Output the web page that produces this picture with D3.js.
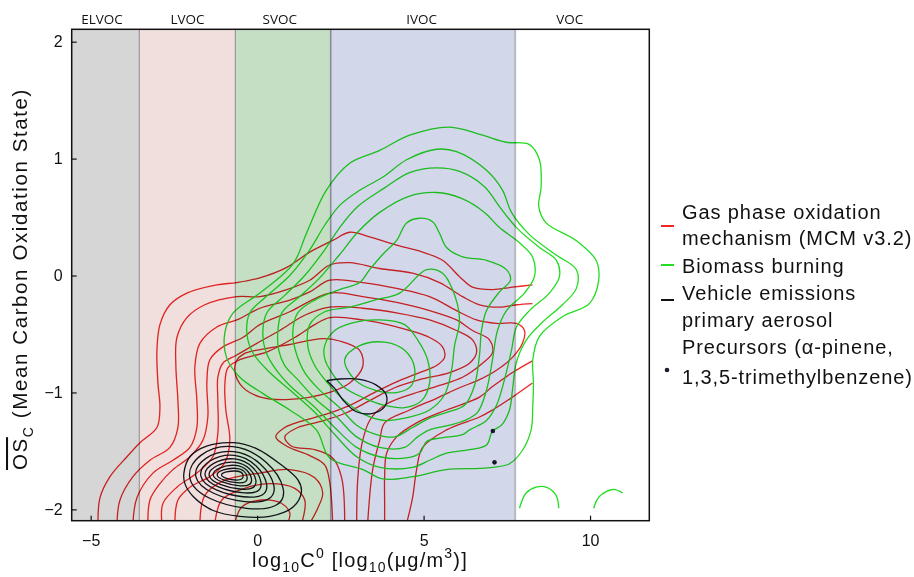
<!DOCTYPE html>
<html>
<head>
<meta charset="utf-8">
<script src="https://cdn.jsdelivr.net/npm/d3@7"></script>
<style>
body { margin: 0; background: #fff; }
svg { display: block; }
text { font-family: "Liberation Sans", Arial, sans-serif; fill: #111; }
</style>
</head>
<body>
<svg id="chart" width="914" height="577"></svg>
<script>
// volatility bins (x in log10 C0 units)
const bandNames = ["ELVOC", "LVOC", "SVOC", "IVOC", "VOC"]
const bandEdges = [-5.57, -3.54, -0.655, 2.21, 7.75, 11.78]
const bandLabelX = [-4.66, -2.09, 0.68, 4.94, 9.39]
const bandColors = ["#d6d6d6", "#f0dfdc", "#c5dfc5", "#d2d8ea", "#ffffff"]

const xTicks = [-5, 0, 5, 10]
const yTicks = [-2, -1, 0, 1, 2]

// gas phase oxidation (MCM) contours, open lines
const redLines = [
	[[-4.78,-2.12],[-4.72,-1.9],[-4.42,-1.72],[-3.91,-1.55],[-3.52,-1.43],[-3.01,-1.3],[-2.92,-1.13],[-2.98,-0.92],[-3.01,-0.64],[-2.92,-0.42],[-2.62,-0.25],[-2.11,-0.15],[-1.21,-0.08],[-0.61,-0.06],[0.08,-0.02],[0.89,0.07],[1.58,0.2],[2.27,0.3],[2.78,0.37],[3.38,0.33],[4.19,0.26],[4.97,0.2],[5.57,0.13],[6.08,-0.01],[6.47,-0.1],[7.07,-0.12],[7.67,-0.1],[8.27,-0.08]],
	[[-4.21,-2.12],[-4.12,-1.92],[-3.73,-1.72],[-3.22,-1.58],[-2.62,-1.47],[-2.38,-1.3],[-2.38,-1.07],[-2.44,-0.78],[-2.41,-0.53],[-2.11,-0.36],[-1.57,-0.25],[-0.61,-0.18],[0.08,-0.18],[0.89,-0.12],[1.58,-0.04],[2.18,0.09],[2.78,0.11],[3.68,0.06],[4.67,0.02],[5.48,-0.06],[6.17,-0.18],[6.68,-0.25],[7.28,-0.27],[7.79,-0.25],[8.27,-0.24]],
	[[-3.73,-2.12],[-3.61,-1.9],[-3.13,-1.69],[-2.53,-1.58],[-2.02,-1.47],[-1.81,-1.3],[-1.81,-1.07],[-1.87,-0.78],[-1.72,-0.58],[-1.21,-0.44],[-0.61,-0.38],[0.08,-0.28],[0.98,-0.21],[1.58,-0.14],[2.18,-0.04],[3.17,-0.06],[4.19,-0.11],[5.18,-0.18],[5.99,-0.3],[6.59,-0.38],[7.19,-0.41],[7.79,-0.41],[8.03,-0.47],[7.97,-0.58],[7.67,-0.7],[7.19,-0.81],[6.68,-0.89],[6.08,-0.96],[5.39,-1.05],[4.58,-1.15],[3.83,-1.26],[3.68,-1.41],[3.47,-1.66],[3.32,-2.12]],
	[[-3.28,-2.12],[-3.22,-1.92],[-2.92,-1.78],[-2.53,-1.66],[-2.02,-1.55],[-1.63,-1.41],[-1.48,-1.21],[-1.51,-0.92],[-1.42,-0.72],[-1.03,-0.61],[-0.43,-0.53],[0.08,-0.42],[0.98,-0.31],[2.18,-0.15],[3.17,-0.18],[4.19,-0.23],[5.18,-0.3],[5.99,-0.38],[6.47,-0.47],[6.98,-0.55],[7.07,-0.66],[6.77,-0.75],[6.17,-0.87],[5.48,-0.94],[4.58,-1.02],[3.83,-1.11],[3.38,-1.24],[3.14,-1.45],[3.02,-1.75],[2.99,-2.12]],
	[[-2.86,-2.12],[-2.83,-1.95],[-2.41,-1.81],[-1.81,-1.69],[-1.33,-1.55],[-1.18,-1.35],[-1.18,-1.07],[-1.18,-0.87],[-1.03,-0.75],[-0.61,-0.68],[-0.01,-0.58],[0.68,-0.47],[1.43,-0.34],[2.18,-0.27],[3.17,-0.28],[4.19,-0.32],[5.18,-0.38],[5.99,-0.47],[6.47,-0.55],[6.59,-0.66],[6.38,-0.75],[5.78,-0.83],[4.88,-0.89],[4.13,-0.96],[3.38,-1.07],[2.63,-1.18],[1.88,-1.25],[1.22,-1.3],[0.83,-1.38],[1.04,-1.46],[1.73,-1.49],[2.27,-1.56],[2.54,-1.73],[2.63,-2.12]],
	[[-2.47,-2.12],[-2.38,-1.92],[-2.02,-1.81],[-1.42,-1.72],[-0.97,-1.6],[-0.82,-1.41],[-0.94,-1.15],[-0.97,-0.94],[-0.88,-0.79],[-0.52,-0.72],[0.32,-0.65],[1.13,-0.53],[1.73,-0.42],[2.18,-0.36],[3.17,-0.38],[4.19,-0.44],[5.18,-0.53],[5.57,-0.61],[5.63,-0.7],[5.39,-0.77],[4.88,-0.83],[4.19,-0.91],[3.53,-1.0],[2.78,-1.11],[2.03,-1.19],[1.28,-1.25],[0.83,-1.3],[0.56,-1.38],[0.89,-1.46],[1.58,-1.54],[2.03,-1.62],[2.18,-1.77],[2.27,-2.12]],
	[[8.27,-0.92],[7.67,-1.04],[7.07,-1.15],[6.68,-1.21],[5.69,-1.32],[4.97,-1.47],[4.79,-1.66],[4.67,-1.9],[4.49,-2.12]],
	[[8.27,-0.73],[7.67,-0.83],[7.07,-0.95],[6.68,-1.04],[5.69,-1.15],[4.79,-1.26],[4.19,-1.38],[3.89,-1.52],[3.83,-1.72],[3.83,-1.95],[3.83,-2.12]],
	[[-1.72,-2.12],[-1.57,-1.88],[-0.97,-1.75],[0.08,-1.69],[0.98,-1.66],[1.73,-1.73],[1.97,-1.86],[1.82,-1.99],[1.58,-2.12]],
	[[-1.27,-2.12],[-1.06,-1.92],[-0.37,-1.82],[0.38,-1.78],[1.13,-1.82],[1.43,-1.92],[1.34,-2.12]],
	[[-0.67,-2.12],[-0.46,-1.98],[0.14,-1.92],[0.74,-1.95],[0.98,-2.03],[0.92,-2.12]]
]
const redLoops = [
	[[-0.67,-0.82],[-0.45,-0.95],[0.1,-1.04],[0.98,-1.06],[2.18,-1.0],[2.78,-0.92],[3.17,-0.78],[3.08,-0.64],[2.48,-0.56],[1.97,-0.54],[0.98,-0.59],[0.17,-0.63],[-0.4,-0.67],[-0.62,-0.73]]
]

// biomass burning contours
const greenLoops = [
	[[2.18,-1.56],[1.78,-1.32],[0.98,-1.15],[0.18,-1.01],[-0.52,-0.87],[-0.92,-0.7],[-0.97,-0.49],[-0.72,-0.32],[0.08,-0.15],[1.08,0.1],[1.48,0.36],[2.08,0.73],[2.78,0.96],[3.68,1.07],[4.58,1.2],[5.78,1.27],[6.77,1.2],[7.48,1.14],[8.18,1.12],[8.48,0.99],[8.53,0.76],[8.46,0.59],[8.68,0.45],[9.58,0.3],[10.18,0.13],[10.26,-0.04],[9.98,-0.24],[9.18,-0.35],[8.48,-0.52],[8.28,-0.72],[8.3,-0.92],[8.28,-1.12],[8.23,-1.32],[7.98,-1.49],[7.58,-1.61],[7.08,-1.64],[6.68,-1.65],[5.68,-1.66],[4.68,-1.72],[3.78,-1.74],[3.18,-1.66]],
	[[-0.31,-0.49],[-0.22,-0.32],[0.23,-0.19],[0.98,0.0],[1.58,0.22],[2.03,0.43],[2.48,0.6],[3.08,0.73],[3.77,0.84],[4.49,0.99],[5.39,1.08],[5.99,1.06],[6.89,0.9],[7.37,0.73],[7.64,0.54],[8.18,0.35],[8.96,0.18],[9.59,0.05],[9.59,-0.11],[9.17,-0.25],[8.57,-0.4],[8.09,-0.55],[7.79,-0.74],[7.67,-0.98],[7.58,-1.15],[7.34,-1.28],[7.07,-1.33],[6.89,-1.45],[6.38,-1.49],[5.69,-1.52],[5.18,-1.58],[4.67,-1.64],[3.68,-1.64],[2.99,-1.55],[2.33,-1.36],[1.73,-1.17],[1.07,-1.0],[0.38,-0.83],[-0.13,-0.66]],
	[[0.17,-0.49],[0.29,-0.32],[0.83,-0.17],[1.43,0.0],[2.03,0.22],[2.48,0.41],[3.02,0.59],[3.83,0.75],[4.58,0.88],[5.39,0.92],[6.08,0.89],[6.83,0.76],[7.28,0.59],[7.79,0.41],[8.48,0.24],[8.99,0.13],[9.08,-0.01],[8.78,-0.15],[8.18,-0.3],[7.79,-0.44],[7.64,-0.64],[7.43,-0.89],[7.19,-1.11],[6.89,-1.24],[6.38,-1.32],[6.17,-1.36],[5.48,-1.39],[5.09,-1.42],[4.88,-1.52],[4.49,-1.56],[3.68,-1.55],[2.99,-1.47],[2.33,-1.3],[1.67,-1.11],[0.98,-0.94],[0.53,-0.79],[0.26,-0.65]],
	[[0.62,-0.49],[0.74,-0.32],[1.28,-0.18],[1.88,-0.02],[2.48,0.18],[3.02,0.37],[3.68,0.54],[4.58,0.68],[5.39,0.71],[6.14,0.66],[6.83,0.54],[7.28,0.41],[7.88,0.28],[8.27,0.16],[8.33,-0.01],[8.03,-0.15],[7.49,-0.3],[7.22,-0.47],[7.07,-0.72],[6.89,-0.98],[6.62,-1.17],[6.23,-1.24],[5.78,-1.28],[5.18,-1.32],[4.82,-1.38],[4.43,-1.47],[3.68,-1.47],[2.99,-1.38],[2.39,-1.21],[1.73,-1.05],[1.22,-0.89],[0.83,-0.77],[0.65,-0.64]],
	[[1.07,-0.49],[1.22,-0.32],[1.73,-0.21],[2.48,-0.12],[3.08,-0.06],[3.38,0.05],[3.77,0.18],[4.19,0.3],[4.49,0.45],[4.88,0.49],[5.27,0.46],[5.48,0.36],[5.69,0.24],[6.17,0.16],[6.89,0.13],[7.49,0.05],[7.61,-0.04],[7.28,-0.14],[6.89,-0.3],[6.74,-0.47],[6.68,-0.68],[6.53,-0.94],[6.23,-1.11],[5.69,-1.17],[5.18,-1.22],[4.67,-1.3],[4.13,-1.38],[3.59,-1.36],[2.99,-1.28],[2.48,-1.13],[1.88,-0.98],[1.43,-0.83],[1.16,-0.65]],
	[[4.28,-0.15],[5.09,0.05],[5.57,0.02],[5.87,-0.12],[6.08,-0.38],[5.93,-0.6],[5.84,-0.81],[5.63,-1.02],[5.18,-1.15],[4.43,-1.22],[3.83,-1.24],[3.23,-1.19],[2.63,-1.07],[2.12,-0.92],[1.73,-0.77],[1.52,-0.6],[1.58,-0.42],[2.03,-0.31],[2.78,-0.27],[3.53,-0.21]],
	[[2.03,-0.6],[2.33,-0.47],[2.93,-0.4],[3.68,-0.38],[4.43,-0.42],[4.82,-0.55],[5.12,-0.72],[5.18,-0.92],[4.94,-1.07],[4.43,-1.13],[3.83,-1.11],[3.23,-1.05],[2.63,-0.96],[2.24,-0.83],[2.03,-0.71]],
	[[2.63,-0.72],[3.08,-0.6],[3.83,-0.57],[4.43,-0.64],[4.73,-0.79],[4.64,-0.94],[4.22,-1.0],[3.53,-0.98],[2.93,-0.89]]
]
const greenArcs = [
	[[7.88,-1.99],[8.08,-1.86],[8.38,-1.81],[8.68,-1.81],[8.98,-1.88],[9.06,-1.99]],
	[[10.11,-1.99],[10.28,-1.89],[10.68,-1.83],[10.98,-1.86]]
]

// vehicle emissions primary aerosol contours
const blackOuter = [[-2.2,-1.69],[-2.02,-1.55],[-1.52,-1.46],[-0.72,-1.43],[-0.02,-1.48],[0.68,-1.61],[1.23,-1.75],[1.33,-1.85],[1.08,-1.98],[0.38,-2.06],[-0.52,-2.06],[-1.32,-2.01],[-1.92,-1.89],[-2.17,-1.78]]
// rings: left, top, right, bottom points
const blackRings = [
	[[-2.02,-1.735],[-0.72,-1.464],[0.78,-1.82],[-0.32,-1.991]],
	[[-1.84,-1.72],[-0.70,-1.507],[0.50,-1.792],[-0.37,-1.934]],
	[[-1.69,-1.715],[-0.68,-1.538],[0.28,-1.778],[-0.42,-1.892]],
	[[-1.56,-1.712],[-0.67,-1.569],[0.11,-1.763],[-0.47,-1.857]],
	[[-1.44,-1.709],[-0.66,-1.598],[-0.04,-1.749],[-0.52,-1.826]],
	[[-1.32,-1.706],[-0.65,-1.624],[-0.17,-1.738],[-0.56,-1.797]],
	[[-1.20,-1.706],[-0.64,-1.649],[-0.30,-1.726],[-0.60,-1.772]],
	[[-1.07,-1.706],[-0.64,-1.672],[-0.42,-1.715],[-0.64,-1.749]]
]
const blackCusp = [[2.09,-0.9],[2.48,-0.885],[3.08,-0.888],[3.58,-0.937],[3.88,-1.022],[3.83,-1.122],[3.48,-1.179],[2.98,-1.165],[2.58,-1.065],[2.33,-0.965],[2.09,-0.9]]

const precursors = [[7.08, -1.33], [7.13, -1.598]]

const legendItems = [
	{kind: "line", color: "#ee2626", lines: ["Gas phase oxidation", "mechanism (MCM v3.2)"]},
	{kind: "line", color: "#22dd22", lines: ["Biomass burning"]},
	{kind: "line", color: "#111", lines: ["Vehicle emissions", "primary aerosol"]},
	{kind: "dot", color: "#1b1b2f", lines: ["Precursors (\u03b1-pinene,", "1,3,5-trimethylbenzene)"]}
]

const svg = d3.select("#chart")
const x = d3.scaleLinear().domain([-5.57, 11.78]).range([71.7, 649.3])
const y = d3.scaleLinear().domain([-2.097, 2.106]).range([520.7, 29.3])

svg.append("defs").append("clipPath").attr("id", "plotclip")
	.append("rect")
	.attr("x", x.range()[0]).attr("y", y.range()[1])
	.attr("width", x.range()[1] - x.range()[0])
	.attr("height", y.range()[0] - y.range()[1])

// bands
const bands = bandNames.map((n, i) => ({name: n, x0: bandEdges[i], x1: bandEdges[i + 1], color: bandColors[i], lx: bandLabelX[i]}))
svg.append("g").selectAll("rect").data(bands).join("rect")
	.attr("x", d => x(d.x0))
	.attr("width", d => x(d.x1) - x(d.x0))
	.attr("y", y.range()[1])
	.attr("height", y.range()[0] - y.range()[1])
	.attr("fill", d => d.color)

const sepStyle = [["#8a8a8a", 1], ["#8a8a8a", 1], ["#8c8c98", 1.6], ["#b9b9c1", 2]]
svg.append("g").selectAll("line").data(bandEdges.slice(1, -1)).join("line")
	.attr("x1", d => x(d)).attr("x2", d => x(d))
	.attr("y1", y.range()[1]).attr("y2", y.range()[0])
	.attr("stroke", (d, i) => sepStyle[i][0])
	.attr("stroke-width", (d, i) => sepStyle[i][1])

svg.append("g").selectAll("text").data(bands).join("text")
	.attr("x", d => x(d.lx))
	.attr("y", 24)
	.attr("text-anchor", "middle")
	.style("font-family", "'Open Sans', sans-serif")
	.style("font-size", "13.5px")
	.text(d => d.name)

// contours
const openLine = d3.line().x(d => x(d[0])).y(d => y(d[1])).curve(d3.curveCatmullRom.alpha(0.5))
const closedLine = d3.line().x(d => x(d[0])).y(d => y(d[1])).curve(d3.curveCatmullRomClosed.alpha(0.5))
const ringLine = d3.line().x(d => x(d[0])).y(d => y(d[1])).curve(d3.curveCardinalClosed.tension(-0.6))

const plot = svg.append("g")
	.attr("clip-path", "url(#plotclip)")
	.style("mix-blend-mode", "multiply")
	.attr("fill", "none")
	.attr("stroke-width", 1.3)

plot.append("g").attr("stroke", "#ee2626")
	.selectAll("path").data(redLines).join("path").attr("d", openLine)
plot.append("g").attr("stroke", "#ee2626")
	.selectAll("path").data(redLoops).join("path").attr("d", closedLine)
plot.append("g").attr("stroke", "#22dd22")
	.selectAll("path").data(greenLoops).join("path").attr("d", closedLine)
plot.append("g").attr("stroke", "#22dd22")
	.selectAll("path").data(greenArcs).join("path").attr("d", openLine)
const blk = plot.append("g").attr("stroke", "#15151f")
blk.append("path").datum(blackOuter).attr("d", closedLine)
blk.selectAll("path.ring").data(blackRings).join("path").attr("class", "ring").attr("d", ringLine)
blk.append("path").datum(blackCusp).attr("d", openLine)

plot.append("g").selectAll("circle").data(precursors).join("circle")
	.attr("cx", d => x(d[0])).attr("cy", d => y(d[1]))
	.attr("r", 2.3).attr("fill", "#1b1b2f").attr("stroke", "none")

// axes
const fmt = d3.format("d")
const xAxis = svg.append("g").attr("transform", `translate(0,${y.range()[0]})`)
	.call(d3.axisBottom(x).tickValues(xTicks).tickFormat(fmt).tickSize(-5).tickPadding(14))
const yAxis = svg.append("g").attr("transform", `translate(${x.range()[0]},0)`)
	.call(d3.axisLeft(y).tickValues(yTicks).tickFormat(fmt).tickSize(-5).tickPadding(9))
for (const a of [xAxis, yAxis]) {
	a.select(".domain").remove()
	a.selectAll(".tick line").attr("stroke", "#111").attr("stroke-width", 1.2)
	a.selectAll(".tick text").style("font-size", "16px").style("font-family", "'Liberation Sans', Arial, sans-serif").attr("fill", "#111")
}

svg.append("rect")
	.attr("x", x.range()[0]).attr("y", y.range()[1])
	.attr("width", x.range()[1] - x.range()[0])
	.attr("height", y.range()[0] - y.range()[1])
	.attr("fill", "none").attr("stroke", "#111").attr("stroke-width", 1.5)

// axis titles
const xt = svg.append("text").attr("x", 360).attr("y", 567).attr("text-anchor", "middle")
	.style("font-size", "20px").style("letter-spacing", "1.2px")
xt.append("tspan").text("log")
xt.append("tspan").attr("dy", 5).style("font-size", "14px").text("10")
xt.append("tspan").attr("dy", -5).text("C")
xt.append("tspan").attr("dy", -9).style("font-size", "14px").text("0")
xt.append("tspan").attr("dy", 9).text(" [log")
xt.append("tspan").attr("dy", 5).style("font-size", "14px").text("10")
xt.append("tspan").attr("dy", -5).text("(\u03bcg/m")
xt.append("tspan").attr("dy", -9).style("font-size", "14px").text("3")
xt.append("tspan").attr("dy", 9).text(")]")

const yt = svg.append("text").attr("transform", "translate(27,279) rotate(-90)").attr("text-anchor", "middle")
	.style("font-size", "20.5px").style("letter-spacing", "1.6px")
yt.append("tspan").style("text-decoration", "overline").text("OS")
yt.append("tspan").attr("dy", 6).style("font-size", "14px").text("C")
yt.append("tspan").attr("dy", -6).text(" (Mean Carbon Oxidation State)")

// legend
const lg = svg.append("g").attr("transform", "translate(660,0)")
const legendRows = [
	{item: legendItems[0], mark: 226, base: [218.5, 245]},
	{item: legendItems[1], mark: 265, base: [272.5]},
	{item: legendItems[2], mark: 300, base: [300, 326.5]},
	{item: legendItems[3], mark: 370, base: [353.5, 383.5]}
]
legendRows.forEach(r => {
	if (r.item.kind === "line")
		lg.append("line").attr("x1", 1).attr("x2", 14).attr("y1", r.mark).attr("y2", r.mark)
			.attr("stroke", r.item.color).attr("stroke-width", 2)
	else
		lg.append("circle").attr("cx", 7).attr("cy", r.mark).attr("r", 2.3).attr("fill", r.item.color)
	r.item.lines.forEach((t, i) => {
		lg.append("text").attr("x", 22).attr("y", r.base[i])
			.style("font-size", "20px").style("letter-spacing", "0.9px").text(t)
	})
})
</script>
</body>
</html>
